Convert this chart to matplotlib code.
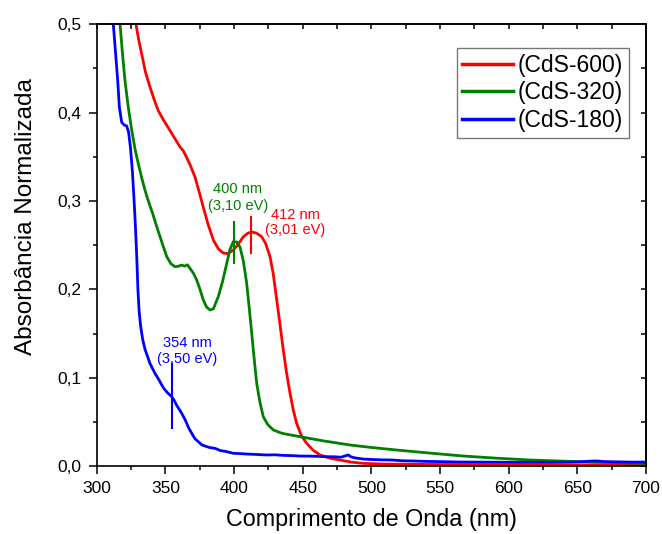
import matplotlib
matplotlib.use("Agg")
import matplotlib.pyplot as plt
from matplotlib.ticker import MultipleLocator, FuncFormatter

plt.rcParams['font.family'] = ['Liberation Sans', 'DejaVu Sans']

# ---- data ----
wl_600 = [328.6, 330.5, 332.8, 335.5, 338.8, 342, 344.9, 348.5, 352.1, 356, 360.7, 363, 364.3, 368,
          371.6, 374.5, 377.6, 381, 384.9, 388.5, 392.2, 395.5, 399.5, 403, 406.8, 410, 412.9, 416.5,
          420.1, 423, 426.2, 428.5, 431.1, 433.5, 435.9, 438.3, 440.8, 443.2, 445.6, 449, 452.9, 457.5,
          462.6, 470, 477.2, 485, 494.1, 510, 540, 580, 620, 660, 700]
abs_600 = [0.500, 0.483, 0.466, 0.446, 0.429, 0.414, 0.402, 0.392, 0.383, 0.373, 0.361, 0.357, 0.353, 0.341,
           0.327, 0.311, 0.293, 0.274, 0.256, 0.246, 0.241, 0.2405, 0.2445, 0.251, 0.2596, 0.2635, 0.265, 0.2635,
           0.2596, 0.252, 0.237, 0.218, 0.188, 0.160, 0.131, 0.105, 0.0823, 0.063, 0.0483, 0.0345, 0.0257, 0.0180,
           0.0125, 0.0088, 0.0068, 0.0045, 0.0030, 0.0022, 0.0018, 0.0015, 0.0013, 0.0012, 0.0010]

wl_320 = [317.0, 318.8, 320.6, 323, 325.5, 328, 330.3, 332.8, 335.2, 338, 340.5, 343.7, 347.5, 351, 354, 357,
          359.5, 361.9, 364, 366, 367.9, 370.5, 372.8, 375.2, 377.6, 380, 382.5, 385, 388.5, 391.5, 394.7,
          397, 399.5, 402, 404.3, 406.8, 409.2, 411, 412.9, 414.7, 416.5, 418.9, 421.3, 424.5, 428.6, 435,
          448, 465, 484.4, 500, 518.5, 540, 567, 590, 615.5, 640, 664.1, 685, 700]
abs_320 = [0.500, 0.466, 0.436, 0.406, 0.380, 0.358, 0.342, 0.326, 0.312, 0.298, 0.287, 0.271, 0.253, 0.237,
           0.229, 0.2256, 0.2262, 0.2275, 0.2262, 0.2278, 0.2238, 0.218, 0.2106, 0.200, 0.188, 0.180, 0.1766,
           0.178, 0.1916, 0.208, 0.2295, 0.245, 0.254, 0.2535, 0.248, 0.232, 0.207, 0.180, 0.150, 0.121, 0.0936,
           0.072, 0.0558, 0.047, 0.0408, 0.0370, 0.0332, 0.0285, 0.0238, 0.0210, 0.0181, 0.0150, 0.0113, 0.0090,
           0.0068, 0.0055, 0.0042, 0.0035, 0.0030]

wl_180 = [312.1, 313.4, 315.3, 316.5, 318.2, 320, 321.8, 323.2, 324.6, 326.0, 327.2, 328.3, 329.2, 330.0,
          330.9, 332.0, 333.5, 335.2, 338.8, 342.4, 345.5, 348.5, 351.5, 354.6, 356.5, 358.5, 361.9, 364.5, 367,
          369.2, 371.5, 374, 376.5, 378.9, 382, 386.2, 390, 394, 399.5, 405, 410, 415, 420, 423.8, 430, 436,
          442, 448, 455, 460, 466, 472.3, 478, 481, 483.2, 485, 488, 494.1, 500, 508, 515, 522, 530.5, 540,
          550, 558, 566.9, 580, 595, 605, 615.5, 630, 645, 655, 660, 664.1, 670, 680, 690, 698, 700]
abs_180 = [0.500, 0.474, 0.436, 0.406, 0.389, 0.386, 0.385, 0.378, 0.360, 0.333, 0.301, 0.268, 0.235, 0.200,
           0.175, 0.158, 0.143, 0.132, 0.116, 0.105, 0.097, 0.0886, 0.083, 0.0785, 0.074, 0.068, 0.0597, 0.052,
           0.043, 0.037, 0.031, 0.0275, 0.024, 0.0226, 0.021, 0.020, 0.0175, 0.0165, 0.0144, 0.0140, 0.0135,
           0.0132, 0.0128, 0.0125, 0.0127, 0.0120, 0.0118, 0.0113, 0.0112, 0.0110, 0.0106, 0.0105, 0.0100,
           0.0115, 0.0125, 0.0105, 0.0092, 0.0079, 0.0074, 0.0070, 0.0068, 0.0060, 0.0057, 0.0052, 0.0050,
           0.0047, 0.0045, 0.0044, 0.0043, 0.0042, 0.0042, 0.0042, 0.0044, 0.0050, 0.0056, 0.0057, 0.0050,
           0.0047, 0.0044, 0.0045, 0.0043]

series_labels = ['(CdS-600)', '(CdS-320)', '(CdS-180)']
series_colors = ['#FF0000', '#008000', '#0000FF']

# annotations
ann_wl = [412, 400, 355]
ann_ylo = [0.241, 0.2295, 0.0427]
ann_yhi = [0.282, 0.2766, 0.116]
ann_tx = [444.8, 402.8, 365.8]
ann_ty1 = [0.284, 0.3136, 0.1398]
ann_ty2 = [0.267, 0.2943, 0.121]
ann_l1 = ['412 nm', '400 nm', '354 nm']
ann_l2 = ['(3,01 eV)', '(3,10 eV)', '(3,50 eV)']

# ---- figure ----
fig = plt.figure(figsize=(6.62, 5.34), dpi=100)
ax = fig.add_axes([0.1461, 0.1273, 0.8297, 0.8272])

for wl, ab, lab, col in zip([wl_600, wl_320, wl_180], [abs_600, abs_320, abs_180],
                            series_labels, series_colors):
    ax.plot(wl, ab, color=col, lw=2.0, label=lab, solid_joinstyle='round')

for i in range(3):
    col = series_colors[i]
    ax.plot([ann_wl[i], ann_wl[i]], [ann_ylo[i], ann_yhi[i]], color=col, lw=1.5)
    ax.text(ann_tx[i], ann_ty1[i], ann_l1[i], color=col, fontsize=10.5, ha='center', va='center')
    ax.text(ann_tx[i], ann_ty2[i], ann_l2[i], color=col, fontsize=10.5, ha='center', va='center')

ax.set_xlim(300, 700)
ax.set_ylim(0, 0.5)
ax.xaxis.set_major_locator(MultipleLocator(50))
ax.xaxis.set_minor_locator(MultipleLocator(25))
ax.yaxis.set_major_locator(MultipleLocator(0.1))
ax.yaxis.set_minor_locator(MultipleLocator(0.05))
ax.yaxis.set_major_formatter(FuncFormatter(lambda v, p: f"{v:.1f}".replace('.', ',')))

ax.tick_params(which='major', direction='out', length=5.8, width=1.1, labelsize=12.5, pad=5)
ax.tick_params(which='minor', direction='out', length=3, width=1.1)

for s in ax.spines.values():
    s.set_linewidth(1.2)

# top and right inward ticks
secx = ax.secondary_xaxis('top')
secx.xaxis.set_major_locator(MultipleLocator(25))
secx.tick_params(direction='in', length=3.6, width=1.1, labeltop=False)
secx.xaxis.set_minor_locator(MultipleLocator(1000))
secy = ax.secondary_yaxis('right')
secy.yaxis.set_major_locator(MultipleLocator(0.05))
secy.tick_params(direction='in', length=3.6, width=1.1, labelright=False)
secy.yaxis.set_minor_locator(MultipleLocator(1000))
secx.spines['top'].set_linewidth(1.2)
secy.spines['right'].set_linewidth(1.2)

ax.set_xlabel('Comprimento de Onda (nm)', fontsize=16.8)
ax.xaxis.set_label_coords(0.5, -0.095)
ax.set_ylabel('Absorbância Normalizada', fontsize=17.5)
ax.yaxis.set_label_coords(-0.108, 0.564)

leg = ax.legend(loc='upper right', bbox_to_anchor=(0.969, 0.946), borderaxespad=0,
                fontsize=16.5, handlelength=2.23, handletextpad=0.2, labelspacing=0.2,
                borderpad=0.25, fancybox=False, frameon=True)
leg.get_frame().set_edgecolor('#555555')
leg.get_frame().set_linewidth(1.0)
for l in leg.get_lines():
    l.set_linewidth(2.5)

fig.savefig('out.png', dpi=100)
